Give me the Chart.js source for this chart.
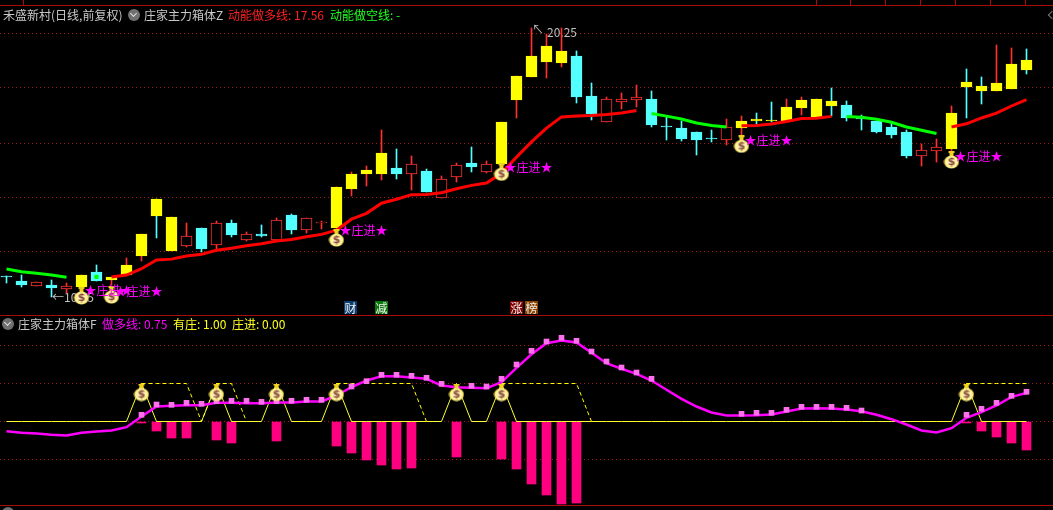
<!DOCTYPE html>
<html>
<head>
<meta charset="utf-8">
<title>庄家主力箱体</title>
<script src="https://cdn.jsdelivr.net/npm/chart.js@4/dist/chart.umd.min.js"></script>
<style>
html, body { margin: 0; padding: 0; background: #000; width: 1053px; height: 510px; overflow: hidden; }
body { position: relative; font: 12px "Noto Sans CJK SC", "Liberation Sans", sans-serif; }
canvas { position: absolute; left: 0; display: block; }
#graficoPreco { top: 18px; }
#graficoFluxo { top: 316px; }
.linha { position: absolute; left: 0; width: 1053px; height: 1px; background: #a80c0c; }
.corte { position: absolute; top: 0; width: 1px; height: 5px; background: #a80c0c; }
.txt { position: absolute; line-height: 14px; white-space: nowrap; }
.selo { position: absolute; width: 13px; height: 13px; line-height: 13px; top: 301px; text-align: center; color: #f0f0f0; font-size: 12px; }
.bola { position: absolute; width: 12px; height: 12px; border-radius: 6px; background: #707070; }
.bola:after { content: ""; position: absolute; left: 3px; top: 2px; width: 4px; height: 4px; border-right: 1px solid #e0e0e0; border-bottom: 1px solid #e0e0e0; transform: rotate(45deg); }
.seta { position: absolute; left: 1049px; top: 12px; width: 5px; height: 5px; border-left: 1px solid #777; border-bottom: 1px solid #777; transform: rotate(45deg); }
</style>
</head>
<body>

<div class="linha" style="top:5px"></div>
<div class="linha" style="top:315px"></div>
<div class="linha" style="top:505px"></div>
<div class="corte" style="left:23px"></div>
<div class="corte" style="left:816px"></div>
<div class="corte" style="left:850px"></div>
<div class="corte" style="left:885px"></div>
<div class="corte" style="left:920px"></div>
<div class="corte" style="left:955px"></div>
<div class="corte" style="left:990px"></div>
<div class="corte" style="left:1025px"></div>
<div class="seta"></div>

<canvas id="graficoPreco" width="1053" height="297"></canvas>
<canvas id="graficoFluxo" width="1053" height="189"></canvas>

<div class="txt" style="left:3px;top:8px;color:#c8c8c8">禾盛新村(日线,前复权)</div>
<div class="bola" style="left:128px;top:9px"></div>
<div class="txt" style="left:144px;top:8px;color:#c8c8c8">庄家主力箱体Z</div>
<div class="txt" style="left:228px;top:8px;color:#ff2020">动能做多线: 17.56</div>
<div class="txt" style="left:330px;top:8px;color:#20ff20">动能做空线: -</div>

<div class="bola" style="left:2px;top:318px"></div>
<div class="txt" style="left:18px;top:317px;color:#c8c8c8">庄家主力箱体F</div>
<div class="txt" style="left:102px;top:317px;color:#ff00ff">做多线: 0.75</div>
<div class="txt" style="left:173px;top:317px;color:#ffff20">有庄: 1.00</div>
<div class="txt" style="left:232px;top:317px;color:#ffff20">庄进: 0.00</div>

<div class="selo" style="left:344px;background:#0a3c6e">财</div>
<div class="selo" style="left:375px;background:#0a780a">减</div>
<div class="selo" style="left:510px;background:#800000">涨</div>
<div class="selo" style="left:525px;background:#8a4400">榜</div>

<div class="bola" style="left:2px;top:507px"></div>

<script>
// candles
var opens = [10.90,10.75,10.57,10.60,10.46,10.52,11.09,10.80,10.97,11.69,13.83,11.87,12.06,12.74,12.11,12.93,12.29,12.51,12.29,13.23,12.66,12.93,12.74,14.20,14.77,14.77,14.99,14.77,14.88,13.87,14.65,15.18,14.84,15.14,17.55,18.41,18.97,18.93,19.20,17.70,16.72,17.47,17.55,17.58,16.54,16.49,16.34,16.08,16.04,16.49,16.83,16.79,16.76,17.24,16.91,17.51,17.36,16.83,16.76,16.53,16.34,15.44,15.63,15.71,18.22,18.07,17.88,17.96,19.05];
var closes = [10.89,10.60,10.71,10.50,10.56,10.97,10.75,10.91,11.35,12.51,13.19,13.15,12.44,11.95,12.93,12.48,12.51,12.44,13.04,12.66,13.11,12.93,14.28,14.77,14.92,15.55,14.77,15.14,14.09,14.58,15.10,15.03,15.14,16.72,18.45,19.20,19.57,19.39,17.66,17.02,17.58,17.58,17.66,16.61,16.53,16.08,16.04,16.07,16.53,16.76,16.76,16.76,17.28,17.55,17.58,17.32,16.87,16.82,16.34,16.23,15.44,15.67,15.78,17.06,18.03,17.88,18.18,18.90,18.67];
var highs = [10.95,10.96,10.71,10.77,10.68,10.97,11.35,10.91,11.61,12.51,13.83,13.15,12.93,12.74,13.00,13.04,12.59,12.85,13.11,13.26,13.11,13.00,14.28,14.84,15.07,16.42,15.71,15.44,14.95,14.69,15.18,15.78,15.25,16.72,18.45,20.25,20.02,20.25,19.39,18.18,17.66,17.81,18.11,17.88,16.91,16.76,16.34,16.42,16.83,16.94,17.06,17.47,17.58,17.66,17.58,18.00,17.51,16.98,16.76,16.68,16.42,15.89,16.08,17.32,18.71,18.41,19.61,19.50,19.46];
var lows = [10.68,10.52,10.57,10.15,10.31,10.41,10.75,10.60,10.97,11.51,12.36,11.87,12.03,11.84,11.95,12.40,12.25,12.40,12.25,12.51,12.55,12.70,12.59,13.94,14.32,14.54,14.58,14.17,14.09,13.87,14.47,14.84,14.80,14.92,16.87,18.41,18.37,18.78,17.43,16.79,16.72,17.21,17.28,16.53,16.04,16.01,15.48,15.97,15.86,16.04,16.64,16.72,16.76,16.98,16.91,16.94,16.76,16.42,16.31,16.12,15.37,15.07,15.22,15.55,16.87,17.40,17.88,17.96,18.52];
var yellowDays = [5,7,8,9,10,11,22,23,24,25,33,34,35,36,37,49,50,51,52,53,54,55,63,64,65,66,67,68];

var duoLine = [null,null,null,null,null,null,null,10.90,10.97,11.21,11.54,11.57,11.69,11.75,11.90,11.98,12.07,12.15,12.25,12.31,12.41,12.50,12.66,13.07,13.29,13.67,13.82,13.99,14.00,14.06,14.21,14.34,14.43,14.79,15.40,15.97,16.49,16.91,16.94,16.96,17.00,17.06,17.15,null,null,null,null,null,null,16.58,16.59,16.64,16.74,16.85,16.86,16.93,null,null,null,null,null,null,null,16.53,16.65,16.87,17.05,17.32,17.56];
var kongLine = [11.20,11.10,11.04,10.97,10.89,null,10.90,null,null,null,null,null,null,null,null,null,null,null,null,null,null,null,null,null,null,null,null,null,null,null,null,null,null,null,null,null,null,null,null,null,null,null,null,17.04,16.94,16.83,16.68,16.59,16.53,null,null,null,null,null,null,null,16.93,16.90,16.82,16.71,16.53,16.41,16.29,null,null,null,null,null,null];

var bagDays = [5,7,22,33,49,63];
var bagPrices = [10.19,10.22,12.36,14.83,15.88,15.29];
var entryPrices = [10.41,10.37,12.63,15.03,16.01,15.44];
var entryText = "★庄进★";
var priceGrid = [20.06,18.00,15.93,13.88,11.84];

// lower pane
var zuoDuo = [-0.255,-0.297,-0.316,-0.35,-0.368,-0.297,-0.263,-0.237,-0.15,0.13,0.395,0.413,0.429,0.429,0.492,0.492,0.482,0.482,0.5,0.5,0.526,0.526,0.684,0.908,1.079,1.192,1.192,1.158,1.124,0.947,0.903,0.887,0.876,1.034,1.413,1.771,2.061,2.132,2.079,1.808,1.534,1.387,1.255,1.079,0.834,0.597,0.395,0.237,0.158,0.158,0.166,0.184,0.263,0.342,0.35,0.342,0.316,0.271,0.176,0.061,-0.079,-0.237,-0.289,-0.176,0.097,0.245,0.421,0.65,0.75];
var squares = [null,null,null,null,null,null,null,null,null,0.176,0.447,0.439,0.492,0.466,0.534,0.545,0.545,0.518,0.534,0.545,0.571,0.571,null,0.921,1.061,1.229,1.229,1.203,1.15,0.992,null,0.939,0.921,1.124,1.5,1.861,2.105,2.203,2.124,1.842,1.579,1.421,1.289,1.124,null,null,null,null,null,0.203,0.229,0.229,0.308,0.387,0.387,0.387,0.361,0.289,null,null,null,null,null,null,0.176,0.334,0.492,0.676,0.782];
var zhuangJin = [0,0,0,0,0,0,0,0,0,1,0,0,0,0,1,0,0,0,1,0,0,0,1,0,0,0,0,0,0,0,1,0,0,1,0,0,0,0,0,0,0,0,0,0,0,0,0,0,0,0,0,0,0,0,0,0,0,0,0,0,0,0,0,0,1,0,0,0,0];
var youZhuang = [null,null,null,null,null,null,null,null,null,1,1,1,1,0,1,1,0,null,null,null,null,null,1,1,1,1,1,1,0,null,null,null,null,1,1,1,1,1,1,0,null,null,null,null,null,null,null,null,null,null,null,null,null,null,null,null,null,null,null,null,null,null,null,null,1,1,1,1,1];
var histDays = [9,10,11,12,14,15,18,22,23,24,25,26,27,30,33,34,35,36,37,38,64,65,66,67,68];
var histValues = [-0.03,-0.263,-0.447,-0.447,-0.474,-0.553,-0.526,-0.632,-0.816,-1.0,-1.132,-1.237,-1.211,-0.947,-0.974,-1.263,-1.632,-1.947,-2.158,-2.132,-0.03,-0.237,-0.395,-0.553,-0.737];
var fluxBagDays = [9,14,18,22,30,33,64];
var fluxBagValues = [0.763,0.763,0.763,0.763,0.763,0.763,0.763];
var fluxGrid = [2,1,0,-1];

var RED = "#ff3030", CYAN = "#54ffff", YELLOW = "#ffff00";
var days = opens.map(function(v, i) { return i; });

function corVela(i) {
	if (yellowDays.indexOf(i) >= 0) return YELLOW;
	return closes[i] >= opens[i] ? "#000000" : CYAN;
}
function corBorda(i) {
	if (yellowDays.indexOf(i) >= 0) return YELLOW;
	return closes[i] >= opens[i] ? RED : CYAN;
}

// money bag used as point style
function criaSaco() {
	var c = document.createElement("canvas");
	c.width = 16; c.height = 18;
	var g = c.getContext("2d");
	g.fillStyle = "#f0d020";
	g.fillRect(5, 0, 6, 2);
	g.fillRect(6, 2, 4, 3);
	var r = g.createRadialGradient(8, 11, 2, 8, 11, 8);
	r.addColorStop(0, "#fff8d8");
	r.addColorStop(0.7, "#fff080");
	r.addColorStop(1, "#c8a010");
	g.fillStyle = r;
	g.beginPath();
	g.ellipse(8, 11, 7.5, 6.5, 0, 0, Math.PI * 2);
	g.fill();
	g.fillStyle = "#8a4a30";
	g.font = "bold 11px 'DejaVu Sans'";
	g.textAlign = "center";
	g.textBaseline = "middle";
	g.fillText("$", 8, 11.5);
	return c;
}
var saco = criaSaco();

// keep bars on whole pixels
var barrasInteiras = {
	id: "barrasInteiras",
	afterDatasetsUpdate: function(chart) {
		chart.getSortedVisibleDatasetMetas().forEach(function(meta) {
			if (meta.type !== "bar") return;
			meta.data.forEach(function(el) {
				el.y = Math.round(el.y);
				el.base = Math.round(el.base);
				if (el.y === el.base) el.base = el.y + 1;
			});
		});
	}
};

// high and low notes sit behind the candles, entry notes in front
var notas = {
	id: "notas",
	beforeDatasetsDraw: function(chart) {
		var ctx = chart.ctx, y = chart.scales.y;
		ctx.save();
		ctx.font = "12px 'Noto Sans CJK SC'";
		ctx.fillStyle = "#c0c0c0";
		ctx.textBaseline = "middle";
		ctx.fillText("←10.15", 52, y.getPixelForValue(10.15));
		ctx.fillText("↖", 532, y.getPixelForValue(20.20));
		ctx.fillText("20.25", 547, y.getPixelForValue(20.07));
		ctx.restore();
	},
	afterDatasetsDraw: function(chart) {
		var ctx = chart.ctx, x = chart.scales.x, y = chart.scales.y;
		ctx.save();
		ctx.font = "12px 'Noto Sans CJK SC'";
		ctx.fillStyle = "#ff00ff";
		ctx.textBaseline = "middle";
		bagDays.forEach(function(d, i) {
			ctx.fillText(entryText, x.getPixelForValue(d) + 3, y.getPixelForValue(entryPrices[i]));
		});
		ctx.restore();
	}
};

function opcoes(minY, maxY, grade) {
	return {
		responsive: false,
		animation: false,
		events: [],
		layout: { padding: 0, autoPadding: false },
		plugins: { legend: { display: false }, tooltip: { enabled: false } },
		scales: {
			x: { type: "linear", display: false, offset: false, min: -0.43333, max: 69.76667 },
			y: {
				min: minY,
				max: maxY,
				afterFit: function(s) { s.width = 0; },
				afterBuildTicks: function(s) { s.ticks = grade.map(function(v) { return { value: v }; }); },
				ticks: { display: false },
				border: { display: false, dash: [1, 3] },
				grid: { color: "#a01818", lineWidth: 1, drawTicks: false }
			}
		}
	};
}

function pontos(xs, ys) {
	return xs.map(function(d, i) { return { x: d, y: ys[i] }; });
}
function serie(vals) {
	return vals.map(function(v, i) { return { x: i, y: v }; });
}

new Chart(document.getElementById("graficoPreco"), {
	type: "bar",
	plugins: [barrasInteiras, notas],
	data: {
		datasets: [{
			label: "影线",
			order: 4,
			grouped: false,
			barThickness: 1,
			minBarLength: 1,
			backgroundColor: days.map(function(i) { return closes[i] >= opens[i] ? RED : CYAN; }),
			data: days.map(function(i) { return { x: i, y: [lows[i], highs[i]] }; })
		}, {
			label: "K线",
			order: 3,
			grouped: false,
			barThickness: 11,
			minBarLength: 1,
			borderWidth: 1,
			borderSkipped: false,
			backgroundColor: days.map(corVela),
			borderColor: days.map(corBorda),
			data: days.map(function(i) { return { x: i, y: [Math.min(opens[i], closes[i]), Math.max(opens[i], closes[i])] }; })
		}, {
			type: "line",
			label: "动能做多线",
			order: 2,
			borderColor: "#ff0000",
			borderWidth: 3,
			pointRadius: 0,
			data: serie(duoLine)
		}, {
			type: "line",
			label: "动能做空线",
			order: 2,
			borderColor: "#00ff00",
			backgroundColor: "#00ff00",
			borderWidth: 3,
			pointStyle: "rectRounded",
			pointBorderWidth: 0,
			pointRadius: function(ctx) {
				var i = ctx.dataIndex;
				return kongLine[i] !== null && kongLine[i - 1] == null && kongLine[i + 1] == null ? 2.5 : 0;
			},
			data: serie(kongLine)
		}, {
			type: "line",
			label: "庄进",
			order: 1,
			showLine: false,
			pointStyle: saco,
			data: pontos(bagDays, bagPrices)
		}]
	},
	options: opcoes(9.472, 20.624, priceGrid)
});

new Chart(document.getElementById("graficoFluxo"), {
	type: "bar",
	plugins: [barrasInteiras],
	data: {
		datasets: [{
			label: "柱",
			order: 5,
			grouped: false,
			barThickness: 9,
			backgroundColor: "#ff0080",
			data: pontos(histDays, histValues)
		}, {
			type: "line",
			label: "有庄",
			order: 4,
			borderColor: "#ffff00",
			borderWidth: 1,
			borderDash: [4, 3],
			pointRadius: 0,
			data: serie(youZhuang)
		}, {
			type: "line",
			label: "庄进",
			order: 3,
			borderColor: "#ffff30",
			borderWidth: 1,
			pointRadius: 0,
			data: serie(zhuangJin)
		}, {
			type: "line",
			label: "做多线",
			order: 2,
			borderColor: "#ff00ff",
			borderWidth: 2.5,
			pointRadius: 0,
			data: serie(zuoDuo)
		}, {
			type: "line",
			label: "方块",
			order: 1,
			showLine: false,
			pointStyle: "rect",
			pointRadius: 4,
			pointBorderWidth: 0,
			pointBackgroundColor: "#ff70ee",
			data: serie(squares)
		}, {
			type: "line",
			label: "钱袋",
			order: 0,
			showLine: false,
			pointStyle: saco,
			data: pontos(fluxBagDays, fluxBagValues)
		}]
	},
	options: opcoes(-2.1973, 2.7764, fluxGrid)
});
</script>
</body>
</html>
